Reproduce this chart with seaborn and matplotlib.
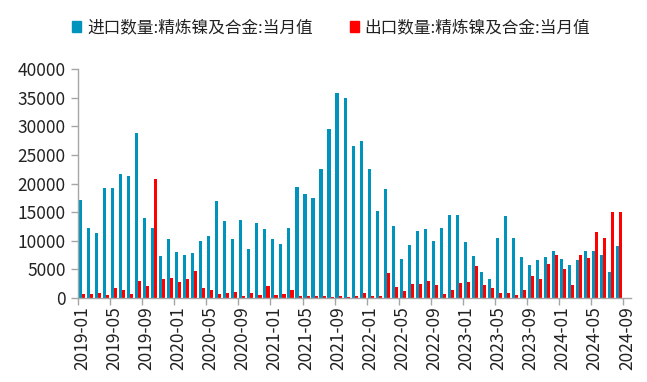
import matplotlib
matplotlib.use("Agg")
import matplotlib.pyplot as plt
from matplotlib.patches import Patch
import numpy as np
import pandas as pd
import seaborn as sns

# monthly categories 2019-01 .. 2024-09
months = pd.date_range("2019-01-01", "2024-09-01", freq="MS").strftime("%Y-%m").tolist()

import_name = "进口数量:精炼镍及合金:当月值"
export_name = "出口数量:精炼镍及合金:当月值"

imports = [
    17100, 12200, 11300, 19200, 19200, 21600, 21300, 28800, 13900, 12200, 7300, 10300,
    8000, 7500, 7800, 9900, 10800, 16900, 13400, 10300, 13600, 8500, 13100, 12000,
    10300, 9400, 12200, 19400, 18100, 17400, 22500, 29500, 35900, 34900, 26500, 27400,
    22500, 15200, 19000, 12600, 6800, 9200, 11700, 12000, 9900, 12200, 14500, 14500,
    9800, 7300, 4500, 3300, 10500, 14300, 10500, 7200, 5800, 6600, 7200, 8200,
    6800, 5800, 6600, 8200, 8200, 7500, 4500, 9100, np.nan,
]
exports = [
    700, 700, 900, 500, 1700, 1400, 700, 3000, 2100, 20800, 3300, 3500,
    2800, 3300, 4700, 1700, 1400, 700, 900, 1100, 400, 900, 500, 2100,
    500, 700, 1400, 400, 400, 400, 400, 200, 400, 200, 400, 900,
    400, 400, 4400, 1900, 1200, 2400, 2400, 3000, 2300, 700, 1400, 2600,
    2800, 5600, 2300, 1700, 900, 900, 500, 1400, 3800, 3300, 5900, 7500,
    5100, 2300, 7500, 7000, 11500, 10500, 15000, 15000, np.nan,
]

teal = "#0094BC"
red = "#FF0000"
axis_grey = "#A6A6A6"

df = pd.DataFrame({
    "month": months * 2,
    "value": imports + exports,
    "series": [import_name] * len(months) + [export_name] * len(months),
})

sns.set_theme(style="white")
plt.rcParams["font.family"] = ["Noto Sans CJK SC", "DejaVu Sans"]

fig = plt.figure(figsize=(6.47, 3.82), dpi=100)
ax = fig.add_axes([0.121, 0.22, 0.854, 0.599])

sns.barplot(
    data=df, x="month", y="value", hue="series",
    order=months, hue_order=[import_name, export_name],
    palette=[teal, red], saturation=1, width=0.76, gap=0,
    errorbar=None, legend=False, linewidth=0, ax=ax,
)

ax.set_xlim(-0.5, len(months) - 0.5)
ax.set_ylim(0, 40000)
ax.set_yticks(range(0, 40001, 5000))
ax.set_xlabel("")
ax.set_ylabel("")

ax.set_xticks(range(0, len(months), 4))
ax.set_xticklabels(months[::4], rotation=90)
ax.set_xticks(np.arange(-0.5, len(months) - 1, 4), minor=True)
ax.tick_params(axis="x", which="major", length=0, pad=6, labelsize=12.5, labelcolor="#222222")
ax.tick_params(axis="x", which="minor", length=5, width=1, color=axis_grey, bottom=True)
ax.tick_params(axis="y", length=5, width=1, color=axis_grey, left=True, labelsize=12.5,
               labelcolor="#222222", pad=4)

for side in ["top", "right"]:
    ax.spines[side].set_visible(False)
for side in ["left", "bottom"]:
    ax.spines[side].set_color(axis_grey)
    ax.spines[side].set_linewidth(1)

handles = [Patch(color=teal, label=import_name), Patch(color=red, label=export_name)]
fig.legend(
    handles=handles, loc="center", bbox_to_anchor=(0.512, 0.927), ncol=2,
    frameon=False, fontsize=12, handlelength=0.55, handleheight=0.55,
    handletextpad=0.35, columnspacing=2.2, labelcolor="#222222",
)

fig.savefig("out.png", dpi=100)
